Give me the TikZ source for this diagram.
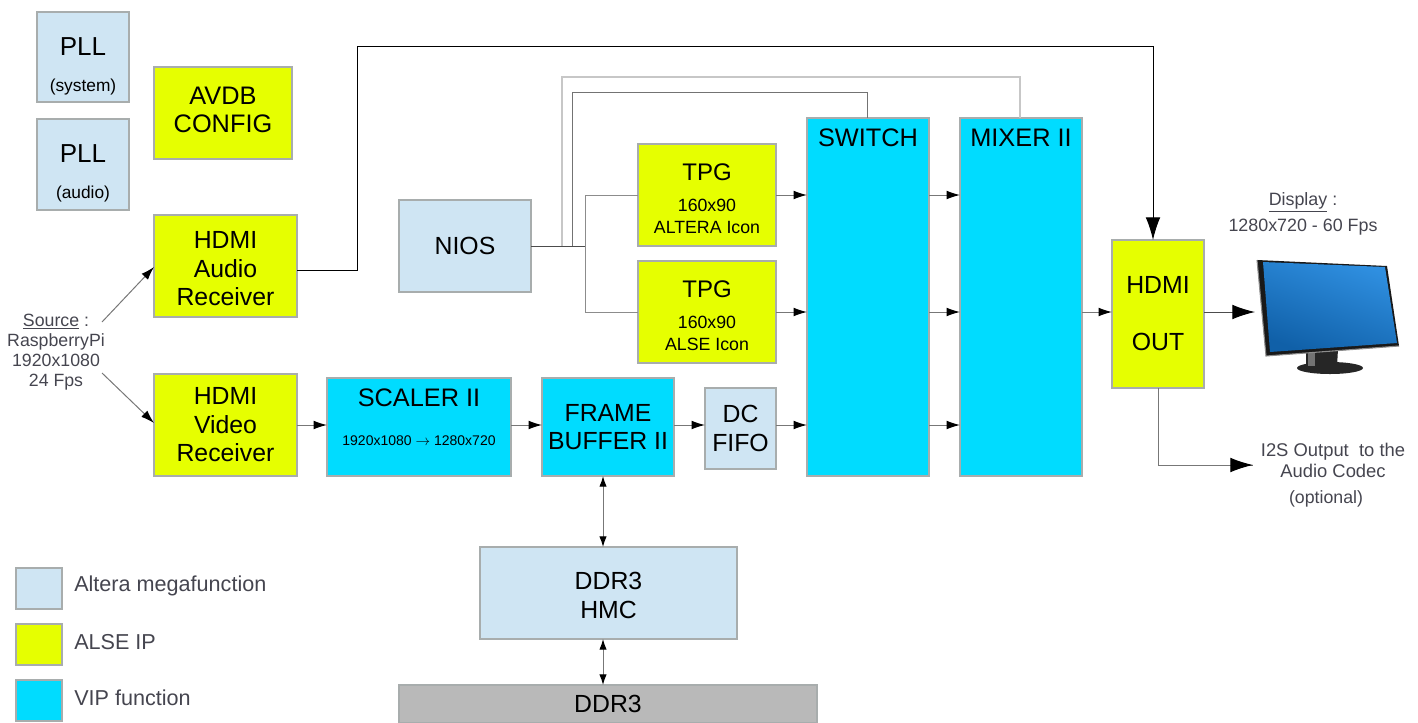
\documentclass[tikz,border=0pt]{standalone}
\usepackage{fontspec}
\setmainfont{Liberation Sans}
\usetikzlibrary{arrows.meta,calc}
\definecolor{megablue}{HTML}{CFE5F3}
\definecolor{alseyel}{HTML}{E6FF00}
\definecolor{vipcyan}{HTML}{00DCFF}
\definecolor{ddrgray}{HTML}{B9B9B9}
\definecolor{edgegray}{HTML}{A8ADAD}
\definecolor{wiregray}{HTML}{777777}
\definecolor{softtext}{HTML}{45454F}
\definecolor{screenlight}{HTML}{2F8FE0}
\definecolor{screendark}{HTML}{1060A8}
\tikzset{
  x=0.75pt,y=-0.75pt,
  block/.style={draw=edgegray,line width=0.8pt,inner sep=0pt,outer sep=0pt,align=center,
    text=black,font=\fontsize{18.6}{21.4}\selectfont},
  mega/.style={block,fill=megablue},
  alse/.style={block,fill=alseyel},
  vip/.style={block,fill=vipcyan},
  ddr/.style={block,fill=ddrgray},
  softlabel/.style={inner sep=0pt,align=center,text=softtext,font=\fontsize{13.3}{15}\selectfont},
  legendlabel/.style={inner sep=0pt,anchor=west,text=softtext,font=\fontsize{16.2}{18}\selectfont},
  wire/.style={draw=wiregray,line width=0.75pt},
  palewire/.style={draw=black!22,line width=0.9pt},
  sig/.style={wire,-{Latex[length=10pt,width=6.5pt,black]}},
  bigsig/.style={wire,-{Latex[length=17pt,width=11pt,black]}},
  bisig/.style={wire,{Latex[length=8pt,width=5.5pt,black]}-{Latex[length=8pt,width=5.5pt,black]}},
  toplabel/.style={label={[anchor=north,inner sep=0pt,yshift=-8pt,font=\fontsize{19}{21}\selectfont,text=black]north:#1}},
}
\newcommand{\bx}[7][]{%
  \node[#2,#1,minimum width={(#6-#4)*0.75pt},minimum height={(#7-#5)*0.75pt}] (#3) at ({(#4+#6)/2},{(#5+#7)/2})}
\newcommand{\smalltxt}{\fontsize{13.3}{16}\selectfont}
\begin{document}
\begin{tikzpicture}
\useasboundingbox (0,0) rectangle (1418,722);
% blocks
\bx[font=\fontsize{19.5}{21.4}\selectfont]{mega}{pllsys}{37}{12}{129}{102} {\rule{0pt}{27pt}PLL\\[5.5pt]{\fontsize{13}{15}\selectfont (system)}};
\bx[font=\fontsize{19.5}{21.4}\selectfont]{mega}{pllaud}{37}{119}{129}{210} {\rule{0pt}{27pt}PLL\\[5.5pt]{\fontsize{13}{15}\selectfont (audio)}};
\bx[font=\fontsize{19}{21.4}\selectfont]{alse}{avdb}{154}{67}{292}{159} {AVDB\\CONFIG\rule[-4.5pt]{0pt}{4.5pt}};
\bx{alse}{haudio}{154}{215}{297}{317} {\rule{0pt}{17pt}HDMI\\Audio\\Receiver};
\bx{alse}{hvideo}{154}{374}{297}{476} {HDMI\\Video\\Receiver};
\bx[toplabel={SCALER II}]{vip}{scaler}{327}{378}{511}{476} {\\[7pt]{\fontsize{10.5}{13}\selectfont 1920x1080 $\rightarrow$ 1280x720}};
\bx{vip}{frame}{542}{378}{674}{476} {FRAME\\BUFFER II};
\bx{mega}{fifo}{705}{388}{776}{469} {DC\\FIFO};
\bx{mega}{nios}{399}{200}{531}{292} {NIOS};
\bx[font=\fontsize{18}{21.4}\selectfont]{alse}{tpga}{638}{144}{776}{246} {\rule{0pt}{18pt}TPG\\[1.5pt]{\smalltxt 160x90}\\[-5pt]{\smalltxt ALTERA Icon}};
\bx[font=\fontsize{18}{21.4}\selectfont]{alse}{tpgb}{638}{261}{776}{363} {\rule{0pt}{18pt}TPG\\[1.5pt]{\smalltxt 160x90}\\[-5pt]{\smalltxt ALSE Icon}};
\bx[toplabel={SWITCH}]{vip}{switch}{807}{118}{929}{476} {};
\bx[toplabel={MIXER II}]{vip}{mixer}{960}{118}{1082}{476} {};
\bx{alse}{hout}{1112}{240}{1204}{388} {HDMI\\[21.3pt]OUT};
\bx{mega}{hmc}{480}{547}{737}{639} {\rule{0pt}{17pt}DDR3\\HMC};
\bx{ddr}{ddrchip}{399}{685}{817}{723} {DDR3};
% legend
\bx{mega}{lega}{16}{568}{62}{609} {};
\bx{alse}{legb}{16}{624}{62}{665} {};
\bx{vip}{legc}{16}{680}{62}{721} {};
\node[legendlabel] (legat) at (74,586) {Altera megafunction};
\node[legendlabel] (legbt) at (74,642) {ALSE IP};
\node[legendlabel] (legct) at (74,698) {VIP function};
% free texts
\node[softlabel] (source) at (56,352) {\underline{Source} :\\RaspberryPi\\1920x1080\\24 Fps};
\node[softlabel,font=\fontsize{13.4}{19.5}\selectfont] (display) at (1303,214) {\underline{Display} :\\1280x720 - 60 Fps};
\node[softlabel,anchor=north,font=\fontsize{13.8}{15.5}\selectfont] (i2s) at (1333,443) {I2S Output\ \ to the\\Audio Codec};
\node[softlabel,anchor=north] (opt) at (1326,490) {(optional)};
% monitor
\coordinate (monleft) at (1255,312);
\coordinate (i2sleft) at (1253,465);
\fill[black!85] (1306,350) -- (1338,349) -- (1337,367) -- (1306,367) -- cycle;
\fill[black!85] (1330,368) ellipse [x radius=33,y radius=6];
\fill[black!55] (1308,351) rectangle (1315,366);
\fill[black!90] (1257,260) -- (1387,266) -- (1399,346) -- (1266,356) -- cycle;
\draw[black!45,line width=0.8pt] (1257,260) -- (1266,356) -- (1399,346);
\shade[left color=screenlight,right color=screendark,shading angle=-20]
  (1263,262) -- (1385,267) -- (1397,343) -- (1270,352) -- cycle;
% connectors
\coordinate (audexit) at (297,270);
\coordinate (audtop) at (357,46);
\coordinate (outtop) at (1153,240);
\draw[wire,draw=black] (audexit) -- (audexit -| audtop) -- (audtop) -- (audtop -| outtop)
  -- ($(outtop)+(0,-26)$);
\draw[bigsig,draw=black] ($(outtop)+(0,-27)$) -- (outtop);
\coordinate (srcup) at (102,322);
\coordinate (srcdn) at (102,373);
\coordinate (audin) at (154,267);
\coordinate (vidin) at (154,423);
\draw[sig] (srcup) -- (audin);
\draw[sig] (srcdn) -- (vidin);
\coordinate (vline) at (297,425);
\draw[sig] (vline) -- (vline -| scaler.west);
\draw[sig] (vline -| scaler.east) -- (vline -| frame.west);
\draw[sig] (vline -| frame.east) -- (vline -| fifo.west);
\draw[sig] (vline -| fifo.east) -- (vline -| switch.west);
\draw[sig] (vline -| switch.east) -- (vline -| mixer.west);
% NIOS fan-out
\coordinate (niosout) at (531,246);
\coordinate (forkc) at (585,246);
\coordinate (forka) at (562,246);
\coordinate (forkb) at (572,246);
\coordinate (mixtop) at (1020,118);
\coordinate (swtop) at (867,118);
\draw[palewire] (forka) -- (562,77) -- (mixtop |- 0,77) -- (mixtop);
\draw[wire,draw=black!55] (forkb) -- (572,92) -- (swtop |- 0,92) -- (swtop);
\draw[wire,draw=black!70] (niosout) -- (forkc);
\draw[wire,draw=black!45] (forkc) -- (forkc |- tpga.west) -- (tpga.west);
\draw[wire,draw=black!45] (forkc) -- (forkc |- tpgb.west) -- (tpgb.west);
\draw[sig] (tpga.east) -- (tpga.east -| switch.west);
\draw[sig] (tpgb.east) -- (tpgb.east -| switch.west);
\draw[sig] (tpga.east -| switch.east) -- (tpga.east -| mixer.west);
\draw[sig] (tpgb.east -| switch.east) -- (tpgb.east -| mixer.west);
\draw[sig] (tpgb.east -| mixer.east) -- (tpgb.east -| hout.west);
\draw[bigsig,draw=black!70] (tpgb.east -| hout.east) -- (monleft);
\draw[wire] (hout.south) |- (i2sleft);
\draw[bigsig] ($(i2sleft)+(-30,0)$) -- (i2sleft);
\coordinate (dbusx) at (603,0);
\draw[bisig] (dbusx |- frame.south) -- (dbusx |- hmc.north);
\draw[bisig] (dbusx |- hmc.south) -- (dbusx |- ddrchip.north);
\end{tikzpicture}
\end{document}
